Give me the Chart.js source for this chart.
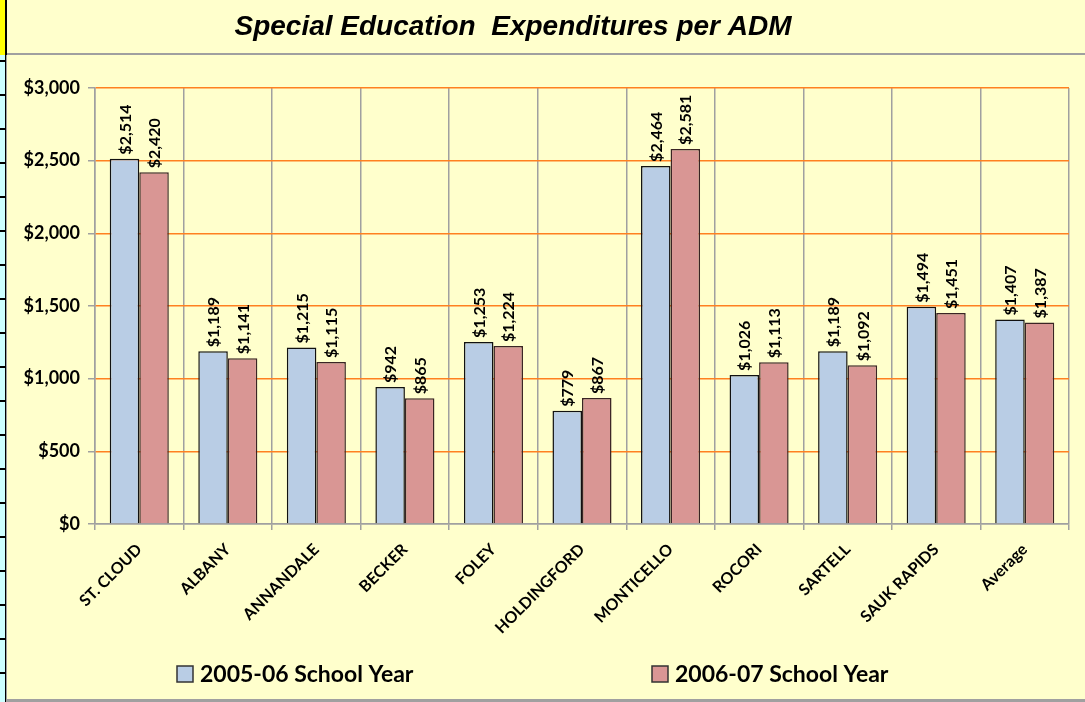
<!DOCTYPE html>
<html>
<head>
<meta charset="utf-8">
<title>Special Education Expenditures per ADM</title>
<script src="https://cdn.jsdelivr.net/npm/chart.js@4/dist/chart.umd.min.js"></script>
<style>
  html, body { margin: 0; padding: 0; background: #FFFFCC; }
  #wrap { position: relative; width: 1085px; height: 702px; }
</style>
</head>
<body>
<div id="wrap"><canvas id="chart" width="1085" height="702"></canvas></div>
<script>
// chart data
const districts = ['ST. CLOUD', 'ALBANY', 'ANNANDALE', 'BECKER', 'FOLEY', 'HOLDINGFORD',
  'MONTICELLO', 'ROCORI', 'SARTELL', 'SAUK RAPIDS', 'Average'];
const year0506 = [2514, 1189, 1215, 942, 1253, 779, 2464, 1026, 1189, 1494, 1407];
const year0607 = [2420, 1141, 1115, 865, 1224, 867, 2581, 1113, 1092, 1451, 1387];
const seriesNames = ['2005-06 School Year', '2006-07 School Year'];
const chartTitle = 'Special Education  Expenditures per ADM';

const money = v => '$' + Number(v).toLocaleString('en-US');

// frame, strip on the left and the title
const framePlugin = {
  id: 'frame',
  beforeDraw(chart) {
    const c = chart.ctx;
    c.save();
    c.fillStyle = '#FFFFCC';
    c.fillRect(0, 0, chart.width, chart.height);
    // left strip
    c.fillStyle = '#CCFFFF';
    c.fillRect(0, 0, 6, chart.height);
    c.fillStyle = '#FFFF00';
    c.fillRect(0, 0, 6, 55);
    c.fillStyle = '#000';
    c.fillRect(5, 0, 2, chart.height);
    for (let y = 61; y < chart.height; y += 34) c.fillRect(0, y - 1, 6, 2);
    // gray separators
    c.fillStyle = '#A0A0A0';
    c.fillRect(7, 53, chart.width - 7, 2);
    c.fillRect(7, 699, chart.width - 7, 3);
    c.fillRect(6, 55, 1, chart.height - 55);
    // title
    c.fillStyle = '#000';
    c.font = 'italic bold 28px "Liberation Sans", Arial, sans-serif';
    c.textAlign = 'center';
    c.textBaseline = 'middle';
    c.fillText(chartTitle, 513, 27);
    c.restore();
  }
};

// values above bars
const barLabels = {
  id: 'barLabels',
  afterDatasetsDraw(chart) {
    const c = chart.ctx;
    c.save();
    c.fillStyle = '#000';
    c.font = 'bold 16px Lato, sans-serif';
    c.textAlign = 'left';
    c.textBaseline = 'middle';
    chart.data.datasets.forEach((ds, i) => {
      chart.getDatasetMeta(i).data.forEach((bar, j) => {
        c.save();
        c.translate(bar.x + 1, bar.y - 4);
        c.rotate(-Math.PI / 2);
        c.fillText(money(ds.data[j]), 0, 0);
        c.restore();
      });
    });
    c.restore();
  }
};

// legend at the bottom, items spread apart like the original
const wideLegend = {
  id: 'wideLegend',
  afterDraw(chart) {
    const c = chart.ctx;
    const xs = [177, 652];
    const yc = 674;
    c.save();
    c.font = 'bold 23px Lato, sans-serif';
    c.textBaseline = 'middle';
    c.textAlign = 'left';
    chart.data.datasets.forEach((ds, i) => {
      c.fillStyle = ds.backgroundColor;
      c.fillRect(xs[i], yc - 8, 16, 16);
      c.strokeStyle = '#333';
      c.lineWidth = 1.5;
      c.strokeRect(xs[i], yc - 8, 16, 16);
      c.fillStyle = '#000';
      c.fillText(ds.label, xs[i] + 23, yc + 1);
    });
    c.restore();
  }
};

new Chart(document.getElementById('chart').getContext('2d'), {
  type: 'bar',
  data: {
    labels: districts,
    datasets: [
      { label: seriesNames[0], data: year0506, backgroundColor: '#B9CDE5',
        borderColor: '#111', borderWidth: 1.5 },
      { label: seriesNames[1], data: year0607, backgroundColor: '#D99694',
        borderColor: '#3a2424', borderWidth: 1.5 }
    ]
  },
  options: {
    responsive: false,
    animation: false,
    layout: { padding: { top: 88, right: 16, bottom: 0, left: 0 } },
    datasets: { bar: { categoryPercentage: 0.667, barPercentage: 1.0 } },
    plugins: {
      legend: { display: false },
      title: { display: false },
      tooltip: { enabled: false }
    },
    scales: {
      x: {
        grid: { offset: true, color: '#A0A0A0', tickColor: '#A0A0A0', tickLength: 6, lineWidth: 1.5 },
        border: { color: '#A0A0A0', width: 1.5 },
        ticks: {
          color: '#000', font: { family: 'Lato', size: 16, weight: 'bold' },
          maxRotation: 45, minRotation: 45, padding: 10
        },
        afterFit(scale) { scale.height = 178; }
      },
      y: {
        min: 0, max: 3000,
        ticks: {
          stepSize: 500, color: '#000', padding: 8,
          font: { family: 'Lato', size: 18, weight: 'bold' },
          callback: v => money(v)
        },
        grid: {
          color: ctx => ctx.tick && ctx.tick.value === 0 ? '#A0A0A0' : '#FF8020',
          tickColor: '#A0A0A0', tickLength: 7, lineWidth: 1.5
        },
        border: { color: '#A0A0A0', width: 1.5 },
        afterFit(scale) { scale.width = 95; }
      }
    }
  },
  plugins: [framePlugin, barLabels, wideLegend]
});
</script>
</body>
</html>
